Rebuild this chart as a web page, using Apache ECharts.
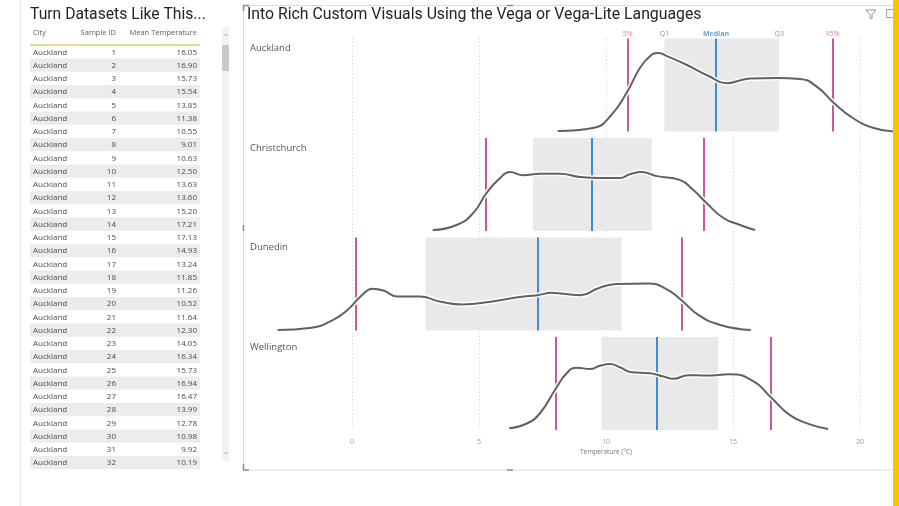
<!DOCTYPE html>
<html><head><meta charset="utf-8">
<script src="https://cdn.jsdelivr.net/npm/echarts@6/dist/echarts.min.js"></script>
<style>html,body{margin:0;padding:0;background:#fff;overflow:hidden}#c{width:899px;height:506px}</style>
</head><body><div id="c"></div>
<script>
// ================= DATA =================
// Left table
const tableTitle = 'Turn Datasets Like This...';
const tableHeaders = ['City', 'Sample ID', 'Mean Temperature'];
const tableCities = ['Auckland','Auckland','Auckland','Auckland','Auckland','Auckland','Auckland','Auckland',
  'Auckland','Auckland','Auckland','Auckland','Auckland','Auckland','Auckland','Auckland',
  'Auckland','Auckland','Auckland','Auckland','Auckland','Auckland','Auckland','Auckland',
  'Auckland','Auckland','Auckland','Auckland','Auckland','Auckland','Auckland','Auckland'];
const sampleIds = [1,2,3,4,5,6,7,8,9,10,11,12,13,14,15,16,17,18,19,20,21,22,23,24,25,26,27,28,29,30,31,32];
const meanTemps = [16.05,16.90,15.73,15.54,13.85,11.38,10.55,9.01,10.63,12.50,13.63,13.60,15.20,17.21,17.13,14.93,
  13.24,11.85,11.26,10.52,11.64,12.30,14.05,16.34,15.73,16.94,16.47,13.99,12.78,10.98,9.92,10.19];

// Right chart
const chartTitle = 'Into Rich Custom Visuals Using the Vega or Vega-Lite Languages';
const xAxisName = 'Temperature (°C)';
const xTicks = [0, 5, 10, 15, 20];
const cities = ['Auckland', 'Christchurch', 'Dunedin', 'Wellington'];
const quantileLabels = ['5%', 'Q1', 'Median', 'Q3', '95%'];

// density curves (temperature, density)
const aucklandTemp = [8.1,9.53,10.2,10.83,11.34,11.73,12.05,12.4,13.19,13.98,14.8,15.16,15.67,16.73,17.64,18.31,18.94,19.72,20.51,21.3];
const aucklandDensity = [0.001,0.008,0.035,0.085,0.137,0.162,0.169,0.162,0.143,0.121,0.104,0.108,0.114,0.115,0.113,0.096,0.063,0.029,0.008,0.000];
const christchurchTemp = [3.18,4.12,4.78,5.30,5.83,6.22,6.74,7.40,8.19,8.98,9.76,10.55,10.94,11.4,12.0,12.9,13.44,13.96,14.62,15.28,15.87];
const christchurchDensity = [0.002,0.013,0.039,0.082,0.114,0.127,0.120,0.123,0.123,0.116,0.114,0.114,0.122,0.127,0.118,0.110,0.088,0.060,0.028,0.013,0.002];
const dunedinTemp = [-2.93,-1.59,-0.74,-0.18,0.39,0.81,1.24,1.80,2.65,3.49,4.34,5.47,6.60,7.30,7.87,8.29,9.0,9.70,10.41,11.68,12.38,12.95,13.65,14.50,15.70];
const dunedinDensity = [0.001,0.006,0.023,0.044,0.076,0.090,0.086,0.073,0.073,0.062,0.056,0.062,0.072,0.076,0.081,0.079,0.076,0.091,0.100,0.101,0.089,0.066,0.033,0.012,0.001];
const wellingtonTemp = [6.19,6.88,7.40,7.99,8.45,8.85,9.37,9.76,10.16,10.55,11.01,11.73,12.26,12.65,13.24,13.96,14.88,15.80,16.46,17.24,18.03,18.75];
const wellingtonDensity = [0.004,0.014,0.036,0.086,0.122,0.134,0.131,0.138,0.142,0.135,0.124,0.122,0.115,0.110,0.118,0.117,0.120,0.105,0.072,0.032,0.012,0.002];

// quantiles per city (same order as cities)
const q05 = [10.85, 5.26, 0.13, 8.02];
const q1 = [12.30, 7.12, 2.89, 9.82];
const median = [14.33, 9.44, 7.33, 12.00];
const q3 = [16.82, 11.80, 10.62, 14.42];
const q95 = [18.92, 13.83, 12.99, 16.50];

// ================= LAYOUT / STYLE =================
const X_MIN = -4, X_MAX = 21.3, Y_MAX = 0.2;
const PLOT_LEFT = 250.4, PLOT_RIGHT = 6;
const PANEL_TOP = 38.5, PANEL_STEP = 99.5, PANEL_H = 93;
const TABLE_LEFT = 30, TABLE_TOP = 45.3, TABLE_W = 170, ROW_H = 13.25;
const PINK = '#c9589b', BLUE = '#3f8bd6', QGRAY = '#777777', BOXC = '#e9e9e9';
const CURVE = '#616161';
const BODY_FONT = '"Open Sans", "Noto Sans", sans-serif';
const TITLE_FONT = 'Roboto, "DejaVu Sans", sans-serif';

const curveTemps = [aucklandTemp, christchurchTemp, dunedinTemp, wellingtonTemp];
const curveDens = [aucklandDensity, christchurchDensity, dunedinDensity, wellingtonDensity];

const grids = [
  {left: TABLE_LEFT, top: TABLE_TOP, width: TABLE_W, height: ROW_H * sampleIds.length},
  {left: PLOT_LEFT, right: PLOT_RIGHT, top: PANEL_TOP, height: PANEL_STEP * 3 + PANEL_H}
];
const xAxes = [
  {gridIndex: 0, type: 'value', min: 0, max: 1, show: false},
  {gridIndex: 1, type: 'value', min: X_MIN, max: X_MAX,
    axisLine: {show: false}, axisTick: {show: false, customValues: xTicks},
    axisLabel: {customValues: xTicks, color: '#9a9a9a', fontSize: 7, margin: 8, fontFamily: BODY_FONT},
    splitLine: {show: true, lineStyle: {type: [1, 2.5], color: '#cfcfcf', width: 1}}}
];
const yAxes = [
  {gridIndex: 0, type: 'category', data: sampleIds.map(String), inverse: true, show: false},
  {gridIndex: 1, type: 'value', min: 0, max: 1, show: false}
];
const series = [];

// table via custom series on a category axis
series.push({
  type: 'custom', xAxisIndex: 0, yAxisIndex: 0, silent: true,
  data: sampleIds.map((id, i) => [0, i]),
  encode: {x: 0, y: 1},
  renderItem: function (params, api) {
    const i = params.dataIndex;
    const cs = params.coordSys;
    const yc = api.coord([0, i])[1];
    const h = api.size([0, 1])[1];
    const ch = [];
    if (i % 2 === 1) ch.push({type: 'rect', shape: {x: cs.x, y: yc - h / 2, width: cs.width, height: h}, style: {fill: '#ececec'}});
    const ts = (t, x, align) => ({type: 'text', style: {text: t, x: x, y: yc + 0.5, align: align, verticalAlign: 'middle',
      fill: '#4a4a4a', fontSize: 8, fontFamily: BODY_FONT}});
    ch.push(ts(tableCities[i], cs.x + 3, 'left'));
    ch.push(ts(String(sampleIds[i]), cs.x + 86, 'right'));
    ch.push(ts(meanTemps[i].toFixed(2), cs.x + 167, 'right'));
    return {type: 'group', children: ch};
  }
});

cities.forEach((city, p) => {
  const gi = p + 2;
  grids.push({left: PLOT_LEFT, right: PLOT_RIGHT, top: PANEL_TOP + p * PANEL_STEP, height: PANEL_H});
  xAxes.push({gridIndex: gi, type: 'value', min: X_MIN, max: X_MAX, show: false});
  yAxes.push({gridIndex: gi, type: 'value', min: 0, max: Y_MAX, show: false});
  const data = curveTemps[p].map((t, k) => [t, curveDens[p][k]]);
  series.push({
    type: 'line', name: city + ' halo', xAxisIndex: gi, yAxisIndex: gi, data: data,
    smooth: 0.5, symbol: 'none', silent: true, z: 3,
    lineStyle: {color: '#ffffff', width: 5},
    markArea: {silent: true, z: 1, itemStyle: {color: BOXC}, data: [[{xAxis: q1[p]}, {xAxis: q3[p]}]]},
    markLine: {silent: true, z: 2, symbol: ['none', 'none'], label: {show: false},
      lineStyle: {type: 'solid', width: 2},
      data: [
        {xAxis: q05[p], lineStyle: {color: PINK, type: 'solid', width: 2}},
        {xAxis: median[p], lineStyle: {color: BLUE, type: 'solid', width: 2}},
        {xAxis: q95[p], lineStyle: {color: PINK, type: 'solid', width: 2}}
      ]}
  });
  series.push({
    type: 'line', name: city, xAxisIndex: gi, yAxisIndex: gi, data: data,
    smooth: 0.5, symbol: 'none', silent: true, z: 4,
    lineStyle: {color: CURVE, width: 2}
  });
  if (p === 0) {
    const qs = [q05[0], q1[0], median[0], q3[0], q95[0]];
    const qc = [PINK, QGRAY, BLUE, QGRAY, PINK];
    series.push({
      type: 'scatter', xAxisIndex: gi, yAxisIndex: gi, symbolSize: 0, silent: true, z: 5,
      data: qs.map((q, k) => ({value: [q, Y_MAX], name: quantileLabels[k],
        label: {color: qc[k], fontWeight: k === 2 ? 'bold' : 'normal'}})),
      label: {show: true, position: 'top', distance: 1, fontSize: 7, fontFamily: BODY_FONT,
        formatter: (d) => d.name}
    });
  }
});

const chart = echarts.init(document.getElementById('c'), null, {renderer: 'canvas'});
chart.setOption({animation: false, backgroundColor: '#ffffff', grid: grids, xAxis: xAxes, yAxis: yAxes, series: series});

// ---- decorations & texts (layout) ----
const g = [];
const line = (x1, y1, x2, y2, stroke, w, z) => ({type: 'line', silent: true, z: z || 10,
  shape: {x1, y1, x2, y2}, style: {stroke, lineWidth: w || 1}});
const text = (t, x, y, size, fill, align, font, weight, z) => ({type: 'text', silent: true, z: z || 10,
  style: {text: t, x, y, fontSize: size, fill, align: align || 'left', verticalAlign: 'middle',
    fontFamily: font || BODY_FONT, fontWeight: weight || 'normal'}});

// left card border
g.push(line(20.5, 0, 20.5, 506, '#e6e6e6', 1));
// left title and table header
g.push(text(tableTitle, TABLE_LEFT, 15, 15.7, '#252423', 'left', TITLE_FONT));
g.push(text(tableHeaders[0], TABLE_LEFT + 3, 33, 7.5, '#605e5c', 'left'));
g.push(text(tableHeaders[1], TABLE_LEFT + 86, 33, 7.5, '#605e5c', 'right'));
g.push(text(tableHeaders[2], TABLE_LEFT + 167, 33, 7.5, '#605e5c', 'right'));
g.push(line(TABLE_LEFT, 45, TABLE_LEFT + TABLE_W, 45, '#e8c766', 1.5));
// scrollbar
g.push({type: 'rect', silent: true, z: 10, shape: {x: 222, y: 27, width: 7, height: 434}, style: {fill: '#f2f2f2'}});
g.push({type: 'rect', silent: true, z: 11, shape: {x: 222, y: 45, width: 7, height: 26}, style: {fill: '#c8c8c8'}});
g.push({type: 'polyline', silent: true, z: 11, shape: {points: [[223.5, 36], [225.5, 34], [227.5, 36]]}, style: {stroke: '#9a9a9a', lineWidth: 0.8, fill: null}});
g.push({type: 'polyline', silent: true, z: 11, shape: {points: [[223.5, 452], [225.5, 454], [227.5, 452]]}, style: {stroke: '#9a9a9a', lineWidth: 0.8, fill: null}});
// right visual border + focus marks
g.push({type: 'rect', silent: true, z: 1, shape: {x: 243.5, y: 5.5, width: 652, height: 464.5}, style: {fill: null, stroke: '#dcdcdc', lineWidth: 1}});
g.push(line(243.5, 5, 243.5, 11, '#8a8a8a', 1.5));
g.push(line(243, 5.5, 249, 5.5, '#8a8a8a', 1.5));
g.push(line(243.5, 464, 243.5, 470, '#8a8a8a', 1.5));
g.push(line(243, 470, 249, 470, '#8a8a8a', 1.5));
g.push(line(507, 5.5, 513, 5.5, '#8a8a8a', 1.5));
g.push(line(507, 470, 513, 470, '#8a8a8a', 1.5));
g.push(line(243.5, 225, 243.5, 231, '#8a8a8a', 1.5));
// right title + icons
g.push(text(chartTitle, 247, 15, 15.8, '#252423', 'left', TITLE_FONT));
g.push({type: 'polyline', silent: true, z: 10, shape: {points: [[866, 10], [876, 10], [872, 14.5], [872, 19], [870, 18], [870, 14.5], [866, 10]]}, style: {stroke: '#8a8a8a', lineWidth: 0.9, fill: null}});
g.push({type: 'rect', silent: true, z: 10, shape: {x: 886.5, y: 9.5, width: 8, height: 8}, style: {fill: null, stroke: '#9a9a9a', lineWidth: 0.9}});
// panel labels
cities.forEach((c, p) => g.push(text(c, 250, PANEL_TOP + p * PANEL_STEP + 10, 9.5, '#555555', 'left')));
// axis title, centred on 10 °C
const xName = chart.convertToPixel({xAxisIndex: 1}, 10);
g.push(text(xAxisName, xName, 452.5, 6.5, '#777777', 'center'));
// yellow side bar
g.push({type: 'rect', silent: true, z: 20, shape: {x: 893, y: 0, width: 6, height: 506}, style: {fill: '#f6c400'}});

chart.setOption({graphic: g});
</script></body></html>
